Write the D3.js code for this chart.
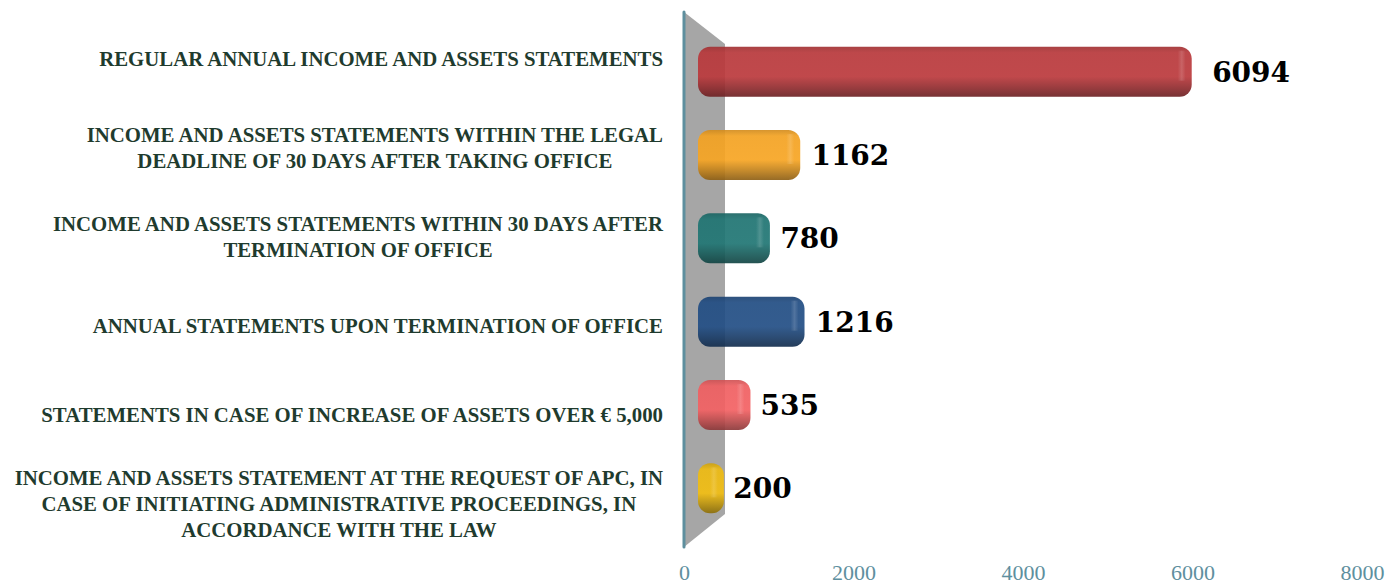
<!DOCTYPE html>
<html>
<head>
<meta charset="utf-8">
<script src="https://cdn.jsdelivr.net/npm/d3@7"></script>
<style>
  html, body { margin: 0; padding: 0; background: #fff; }
  svg { display: block; }
</style>
</head>
<body>
<svg width="1392" height="585"></svg>
<script>
// categories (lines of each label) and values
const categories = [
  ["REGULAR ANNUAL INCOME AND ASSETS STATEMENTS"],
  ["INCOME AND ASSETS STATEMENTS WITHIN THE LEGAL", "DEADLINE OF 30 DAYS AFTER TAKING OFFICE"],
  ["INCOME AND ASSETS STATEMENTS WITHIN 30 DAYS AFTER", "TERMINATION OF OFFICE"],
  ["ANNUAL STATEMENTS UPON TERMINATION OF OFFICE"],
  ["STATEMENTS IN CASE OF INCREASE OF ASSETS OVER € 5,000"],
  ["INCOME AND ASSETS STATEMENT AT THE REQUEST OF APC, IN", "CASE OF INITIATING ADMINISTRATIVE PROCEEDINGS, IN", "ACCORDANCE WITH THE LAW"]
];
const values = [6094, 1162, 780, 1216, 535, 200];
const tickValues = [0, 2000, 4000, 6000, 8000];
const barColors = ["#b8383b", "#f3a222", "#1f7472", "#214d83", "#ef5f61", "#eebb12"];

const svg = d3.select("svg");
const ids = categories.map((c, i) => "c" + i);

// scales: axis plane (back), bar plane (front, 3D offset), value labels, label band
const x = d3.scaleLinear().domain([0, 8000]).range([684, 1362]);
const xBar = d3.scaleLinear().domain([0, 8000]).range([708, 1343]);
const xVal = d3.scaleLinear().domain([0, 8000]).range([717, 1367]);
const yBar = d3.scaleBand().domain(ids).range([30, 530]).paddingInner(0.4).paddingOuter(0.2);
const yLabel = d3.scaleBand().domain(ids).range([14, 548]);

// gradients for the cylinder look
const defs = svg.append("defs");
barColors.forEach((c, i) => {
  const base = d3.color(c);
  const g = defs.append("linearGradient").attr("id", "g" + i)
    .attr("x1", 0).attr("y1", 0).attr("x2", 0).attr("y2", 1);
  g.append("stop").attr("offset", "0%").attr("stop-color", base.darker(0.4));
  g.append("stop").attr("offset", "12%").attr("stop-color", base);
  g.append("stop").attr("offset", "60%").attr("stop-color", base.brighter(0.05));
  g.append("stop").attr("offset", "80%").attr("stop-color", base.darker(0.6));
  g.append("stop").attr("offset", "100%").attr("stop-color", base.darker(1.5));
});
const hl = defs.append("linearGradient").attr("id", "cap")
  .attr("x1", 0).attr("y1", 0).attr("x2", 1).attr("y2", 0);
hl.append("stop").attr("offset", "0%").attr("stop-color", "#fff").attr("stop-opacity", 0);
hl.append("stop").attr("offset", "50%").attr("stop-color", "#fff").attr("stop-opacity", 0.15);
hl.append("stop").attr("offset", "100%").attr("stop-color", "#fff").attr("stop-opacity", 0);

// back wall
svg.append("path")
  .attr("d", "M684,12 L725,44 L725,514 L684,547 Z")
  .attr("fill", "#a6a6a6");
svg.append("line")
  .attr("x1", 684).attr("x2", 684).attr("y1", 12).attr("y2", 547)
  .attr("stroke", "#5e8f9e").attr("stroke-width", 3).attr("stroke-linecap", "round");

// bars
const bars = svg.append("g").selectAll("g")
  .data(values)
  .join("g");

bars.append("rect")
  .attr("x", xBar(0) - 10)
  .attr("y", (d, i) => yBar(ids[i]))
  .attr("width", d => xBar(d) - xBar(0) + 10)
  .attr("height", yBar.bandwidth())
  .attr("rx", 12)
  .attr("fill", (d, i) => `url(#g${i})`)
  .attr("fill-opacity", 0.92);

bars.append("rect")
  .attr("x", d => xBar(d) - 14)
  .attr("y", (d, i) => yBar(ids[i]) + 4)
  .attr("width", 8)
  .attr("height", yBar.bandwidth() * 0.6)
  .attr("fill", "url(#cap)");

// value labels
bars.append("text")
  .attr("x", d => xVal(d))
  .attr("y", (d, i) => yBar(ids[i]) + yBar.bandwidth() / 2)
  .attr("dy", "0.36em")
  .attr("font-family", "'DejaVu Serif', serif")
  .attr("font-weight", "bold")
  .attr("font-size", 28)
  .attr("fill", "#000")
  .text(d => d);

// category labels: lines centred within block, block right-aligned
const labelRight = 663;
const lineH = 26;
categories.forEach((lines, i) => {
  const g = svg.append("g");
  const cy = yLabel(ids[i]) + yLabel.bandwidth() / 2;
  const texts = lines.map((l, j) => g.append("text")
    .attr("y", cy + (j - (lines.length - 1) / 2) * lineH)
    .attr("dy", "0.35em")
    .attr("text-anchor", "middle")
    .attr("font-family", "'Liberation Serif', serif")
    .attr("font-weight", "bold")
    .attr("font-size", 20.8)
    .attr("fill", "#1f3b2e")
    .text(l));
  const widths = texts.map(t => t.node().getComputedTextLength());
  const w = d3.max(widths);
  texts.forEach(t => t.attr("x", labelRight - w / 2));
});

// x axis (labels only)
const axis = svg.append("g")
  .attr("transform", "translate(0,564)")
  .call(d3.axisBottom(x).tickValues(tickValues).tickFormat(d3.format("d")).tickSize(0).tickPadding(0));
axis.select(".domain").remove();
axis.selectAll("text")
  .attr("dy", "0.71em")
  .attr("font-family", "'Liberation Serif', serif")
  .attr("font-size", 22)
  .attr("fill", "#5e8f9e");
</script>
</body>
</html>
